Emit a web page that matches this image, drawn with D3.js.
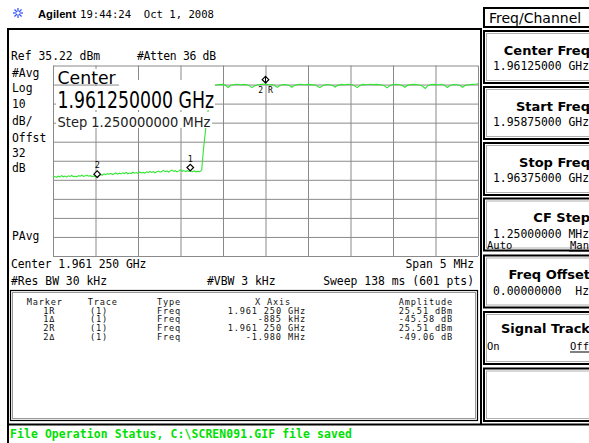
<!DOCTYPE html>
<html><head><meta charset="utf-8">
<script src="https://cdn.jsdelivr.net/npm/d3@7"></script>
<style>
html,body{margin:0;padding:0;background:#fff;}
svg{display:block;}
text{white-space:pre;}
</style></head>
<body>
<svg id="c" width="589" height="443"></svg>
<script>
// ---------- data ----------
const refLevel = 35.22;      // dBm
const dbPerDiv = 10;
const spanMHz = 5;           // centre offset -2.5 .. +2.5 MHz
const headerTexts = ["19:44:24  Oct 1, 2008"];
const leftLabels = ["#Avg","Log","10","dB/","Offst","32","dB"];
const bottomLeft = ["Center 1.961 250 GHz","#Res BW 30 kHz"];
const bottomMid = ["","#VBW 3 kHz"];
const bottomRight = ["Span 5 MHz","Sweep 138 ms (601 pts)"];
const overlayLines = ["Center","1.961250000 GHz","Step 1.250000000 MHz"];
// trace: [offset from centre in MHz, amplitude dBm]
const traceLow = [[-2.50,-23.4],[-2.48,-23.1],[-2.46,-23.5],[-2.44,-22.9],[-2.42,-23.3],[-2.40,-22.6],[-2.38,-23.2],[-2.36,-22.8],[-2.34,-23.4],[-2.32,-22.7],[-2.30,-23.0],[-2.28,-22.5],[-2.26,-23.1],[-2.24,-22.9],[-2.22,-23.3],[-2.20,-22.6],[-2.18,-22.9],[-2.16,-22.4],[-2.14,-23.0],[-2.12,-22.7],[-2.10,-22.3],[-2.08,-22.9],[-2.06,-22.6],[-2.04,-23.1],[-2.02,-22.8],[-2.00,-23.2],[-1.98,-23.55],[-1.96,-22.6],[-1.94,-22.0],[-1.92,-22.4],[-1.90,-21.7],[-1.88,-22.1],[-1.86,-21.5],[-1.84,-21.9],[-1.82,-21.4],[-1.80,-22.0],[-1.78,-21.6],[-1.76,-21.2],[-1.74,-21.8],[-1.72,-21.3],[-1.70,-21.7],[-1.68,-21.1],[-1.66,-21.5],[-1.64,-20.9],[-1.62,-21.6],[-1.60,-21.2],[-1.58,-21.5],[-1.56,-20.8],[-1.54,-21.3],[-1.52,-21.0],[-1.50,-21.4],[-1.48,-20.7],[-1.46,-21.2],[-1.44,-20.9],[-1.42,-21.3],[-1.40,-20.6],[-1.38,-21.0],[-1.36,-20.4],[-1.34,-20.9],[-1.32,-20.5],[-1.30,-21.1],[-1.28,-20.6],[-1.26,-20.2],[-1.24,-20.8],[-1.22,-20.4],[-1.20,-19.8],[-1.18,-20.5],[-1.16,-20.1],[-1.14,-20.7],[-1.12,-20.2],[-1.10,-19.7],[-1.08,-20.4],[-1.06,-20.0],[-1.04,-20.6],[-1.02,-20.1],[-1.00,-19.5],[-0.98,-20.3],[-0.96,-19.9],[-0.94,-20.5],[-0.92,-20.0],[-0.90,-20.4],[-0.885,-20.07],[-0.86,-20.5],[-0.84,-20.1],[-0.82,-20.6],[-0.80,-20.3],[-0.78,-20.5],[-0.76,-20.2]];
const traceEdge = [[-0.75,-19.4],[-0.73,-9.0],[-0.705,1.5],[-0.68,10.0],[-0.655,17.5],[-0.63,22.0],[-0.60,24.6],[-0.57,25.1]];
const traceHigh = [[-0.55,25.2],[-0.50,25.3],[-0.47,24.8],[-0.44,23.7],[-0.41,24.7],[-0.37,25.2],[-0.33,25.4],[-0.29,25.1],[-0.25,25.3],[-0.21,25.0],[-0.18,24.4],[-0.16,23.6],[-0.13,24.5],[-0.09,25.1],[-0.05,25.3],[0.00,25.51],[0.04,25.1],[0.08,25.2],[0.11,24.6],[0.14,23.7],[0.17,24.7],[0.21,25.2],[0.25,25.1],[0.28,24.7],[0.31,23.8],[0.34,24.8],[0.38,25.2],[0.42,25.4],[0.46,25.1],[0.50,25.3],[0.54,25.2],[0.58,25.0],[0.61,24.5],[0.64,23.6],[0.67,24.6],[0.71,25.2],[0.75,25.1],[0.79,24.7],[0.82,23.9],[0.85,24.8],[0.89,25.3],[0.93,25.1],[0.97,25.4],[1.01,25.2],[1.05,24.6],[1.08,23.6],[1.11,24.7],[1.15,25.3],[1.19,25.1],[1.23,25.4],[1.27,25.2],[1.31,25.3],[1.35,25.1],[1.40,24.6],[1.43,23.5],[1.46,24.6],[1.50,25.2],[1.54,25.4],[1.58,25.1],[1.61,24.7],[1.64,23.8],[1.67,24.8],[1.71,25.2],[1.75,25.3],[1.79,25.1],[1.84,24.6],[1.88,23.2],[1.91,24.6],[1.95,25.2],[1.99,25.3],[2.03,25.1],[2.07,25.4],[2.11,24.7],[2.14,23.7],[2.17,24.7],[2.21,25.2],[2.25,25.1],[2.29,24.7],[2.32,23.8],[2.35,24.8],[2.39,25.1],[2.43,25.3],[2.47,25.4],[2.50,25.6]];
// markers
const refMarkerOffset = 0, refMarkerAmp = 25.51;
const deltaLabels = ["1","2"];
const deltaOffsetsMHz = [-0.885,-1.980];
const deltaDb = [-45.58,-49.06];
// marker table
const tableHeader = ["Marker","Trace","Type","X Axis","Amplitude"];
const tMarker = ["1R","1\u0394","2R","2\u0394"];
const tTrace = ["(1)","(1)","(1)","(1)"];
const tType = ["Freq","Freq","Freq","Freq"];
const tXAxis = ["1.961 250 GHz","-885 kHz","1.961 250 GHz","-1.980 MHz"];
const tAmp = ["25.51 dBm","-45.58 dB","25.51 dBm","-49.06 dB"];
// softkeys
const menuTitle = "Freq/Channel";
const softTitles = ["Center Freq","Start Freq","Stop Freq","CF Step","Freq Offset","Signal Track",""];
const softValues = ["1.96125000 GHz","1.95875000 GHz","1.96375000 GHz","1.25000000 MHz","0.00000000  Hz","",""];
const statusText = "File Operation Status, C:\\SCREN091.GIF file saved";

// ---------- drawing ----------
const svg = d3.select("#c");
const mono = "'DejaVu Sans Mono', monospace";
const G = {l:53, r:478, t:65.5, b:256};
const x = d3.scaleLinear().domain([-spanMHz/2, spanMHz/2]).range([G.l, G.r]);
const y = d3.scaleLinear().domain([refLevel-10*dbPerDiv, refLevel]).range([G.b, G.t]);

function T(px,py,str,o={}){
  const t = svg.append("text").attr("x",px).attr("y",py).text(str)
    .attr("font-family",o.ff||mono).attr("font-size",o.fs||11.4)
    .attr("fill",o.fill||"#000");
  if(o.anchor) t.attr("text-anchor",o.anchor);
  if(o.fw) t.attr("font-weight",o.fw);
  if(o.ls!=null) t.attr("letter-spacing",o.ls);
  if(o.sy){ t.attr("x",0).attr("y",0).attr("transform",`translate(${px},${py}) scale(1,${o.sy})`); }
  return t;
}

// header
const star = svg.append("g").attr("transform","translate(18,13)");
d3.range(8).forEach(i=>{
  const a=i*Math.PI/4;
  star.append("line").attr("x1",Math.cos(a)*1.5).attr("y1",Math.sin(a)*1.5)
    .attr("x2",Math.cos(a)*5).attr("y2",Math.sin(a)*5)
    .attr("stroke","#2a4cff").attr("stroke-width",1.2);
});
T(38,18,"Agilent",{ff:"'Liberation Sans', Arial, sans-serif",fw:"bold",fs:11.2});
T(80,18,headerTexts[0],{fs:10.6});

// main panel borders
svg.append("path").attr("d","M8,424 V29 H481 V424").attr("fill","none").attr("stroke","#000").attr("stroke-width",2);

// grid via axes
const gx = svg.append("g").attr("transform",`translate(0,${G.b})`)
  .call(d3.axisBottom(x).tickValues(d3.range(-2.5,2.51,0.5)).tickSize(-(G.b-G.t)).tickFormat(""));
const gy = svg.append("g").attr("transform",`translate(${G.l},0)`)
  .call(d3.axisLeft(y).tickValues(d3.range(0,11).map(i=>refLevel-i*dbPerDiv)).tickSize(-(G.r-G.l)).tickFormat(""));
[gx,gy].forEach(g=>{
  g.select(".domain").remove();
  g.selectAll(".tick line").attr("stroke","#8a8a8a").attr("stroke-width",1);
});

// trace
const trace = traceLow.concat(traceEdge, traceHigh);
svg.append("path").datum(trace)
  .attr("d",d3.line().x(d=>x(d[0])).y(d=>y(d[1])))
  .attr("fill","none").attr("stroke","#33e633").attr("stroke-width",1.1);

// overlay text with white background
svg.append("rect").attr("x",56).attr("y",69).attr("width",63).attr("height",14).attr("fill","#fff");
svg.append("rect").attr("x",56).attr("y",86).attr("width",159).attr("height",24).attr("fill","#fff");
svg.append("rect").attr("x",119).attr("y",80).attr("width",96).attr("height",8).attr("fill","#fff");
svg.append("rect").attr("x",56).attr("y",112).attr("width",156).attr("height",16).attr("fill","#fff");
T(57.5,84,overlayLines[0],{ff:"'DejaVu Sans', sans-serif",fs:17.3});
T(57.5,108.3,overlayLines[1],{ff:"'DejaVu Sans', sans-serif",fs:17.3,sy:1.36});
T(57.5,127,overlayLines[2],{ff:"'DejaVu Sans', sans-serif",fs:13.05,sy:1.04,fill:"#222"});

// markers
function diamond(cx,by){
  const h=3.3;
  return `M${cx},${by} L${cx+h},${by-h} L${cx},${by-2*h} L${cx-h},${by-h} Z`;
}
deltaOffsetsMHz.forEach((f,i)=>{
  const amp = refMarkerAmp + deltaDb[i];
  const cx=x(f), by=y(amp);
  svg.append("path").attr("d",diamond(cx,by)).attr("fill","#fff").attr("stroke","#000").attr("stroke-width",1.2);
  T(cx,by-9,deltaLabels[i],{fs:8.5,anchor:"middle"});
});
{
  const cx=x(refMarkerOffset), by=y(refMarkerAmp)-1;
  svg.append("path").attr("d",diamond(cx,by)).attr("fill","#fff").attr("stroke","#000").attr("stroke-width",1.2);
  svg.append("line").attr("x1",cx).attr("x2",cx).attr("y1",by-6.6).attr("y2",by).attr("stroke","#000").attr("stroke-width",1);
  T(cx,by+10,"2 R",{fs:8,anchor:"middle"});
}

// left annotations
T(11,60,"Ref 35.22 dBm");
T(137,60,"#Atten 36 dB",{ls:-0.3});
const leftBase=[76.5,92,108,125,141.5,157.3,171.7];
leftLabels.forEach((s,i)=>T(12,leftBase[i],s));
T(12,240,"PAvg");

// bottom annotations
T(11,268,bottomLeft[0],{ls:-0.1});
T(11,285,bottomLeft[1]);
T(207,285,bottomMid[1]);
T(474,268,bottomRight[0],{anchor:"end"});
T(474,285,bottomRight[1],{anchor:"end"});

// marker table box
svg.append("rect").attr("x",10.5).attr("y",290.5).attr("width",467).attr("height",130).attr("fill","none").attr("stroke","#000").attr("stroke-width",1.2);
svg.append("rect").attr("x",12.5).attr("y",292.5).attr("width",463).attr("height",126).attr("fill","none").attr("stroke","#999").attr("stroke-width",1);
const tf={fs:8.6,ls:0.85,fill:"#111"};
const hy=304.5, rows=[313.5,322.2,330.9,339.6];
T(26.7,hy,tableHeader[0],tf);
T(87.7,hy,tableHeader[1],tf);
T(157,hy,tableHeader[2],tf);
T(255,hy,tableHeader[3],tf);
T(453,hy,tableHeader[4],Object.assign({anchor:"end"},tf));
rows.forEach((ry,i)=>{
  T(43.3,ry,tMarker[i],tf);
  T(90,ry,tTrace[i],tf);
  T(157,ry,tType[i],tf);
  T(306,ry,tXAxis[i],Object.assign({anchor:"end"},tf));
  T(453,ry,tAmp[i],Object.assign({anchor:"end"},tf));
});

// right softkey panel
svg.append("rect").attr("x",484).attr("y",8).attr("width",110).attr("height",19).attr("fill","none").attr("stroke","#000").attr("stroke-width",2);
T(489,23,menuTitle,{ff:"'DejaVu Sans', sans-serif",fs:14});
const keyTops=[31,87,143,198.5,255.5,312,368.5];
keyTops.forEach((top,i)=>{
  const h = i===6 ? 52.5 : 52;
  svg.append("rect").attr("x",484).attr("y",top).attr("width",110).attr("height",h).attr("fill","none").attr("stroke","#000").attr("stroke-width",2);
  svg.append("rect").attr("x",486.5).attr("y",top+2.5).attr("width",105).attr("height",h-5).attr("fill","none").attr("stroke","#b0b0b0").attr("stroke-width",1);
  if(softTitles[i]) T(590,top+(i===5?21:23.5),softTitles[i],{ff:"'DejaVu Sans', sans-serif",fw:"bold",fs:13,anchor:"end"});
  if(softValues[i]) T(589,top+39,softValues[i],{anchor:"end"});
});
// CF Step Auto/Man
T(487,249,"Auto",{fs:10.5});
T(589,249,"Man",{fs:10.5,anchor:"end"});
svg.append("line").attr("x1",569).attr("x2",589).attr("y1",251).attr("y2",251).attr("stroke","#000");
// Signal Track On/Off
T(487,350,"On",{fs:10.5});
T(589,350,"Off",{fs:10.5,anchor:"end"});
svg.append("line").attr("x1",570).attr("x2",589).attr("y1",352).attr("y2",352).attr("stroke","#000");

// status bar
svg.append("rect").attr("x",8).attr("y",424.5).attr("width",590).attr("height",20).attr("fill","none").attr("stroke","#000").attr("stroke-width",2);
T(10,438,statusText,{fw:"bold",fs:11.4,fill:"#00e000",ls:0.12});
</script>
</body></html>
